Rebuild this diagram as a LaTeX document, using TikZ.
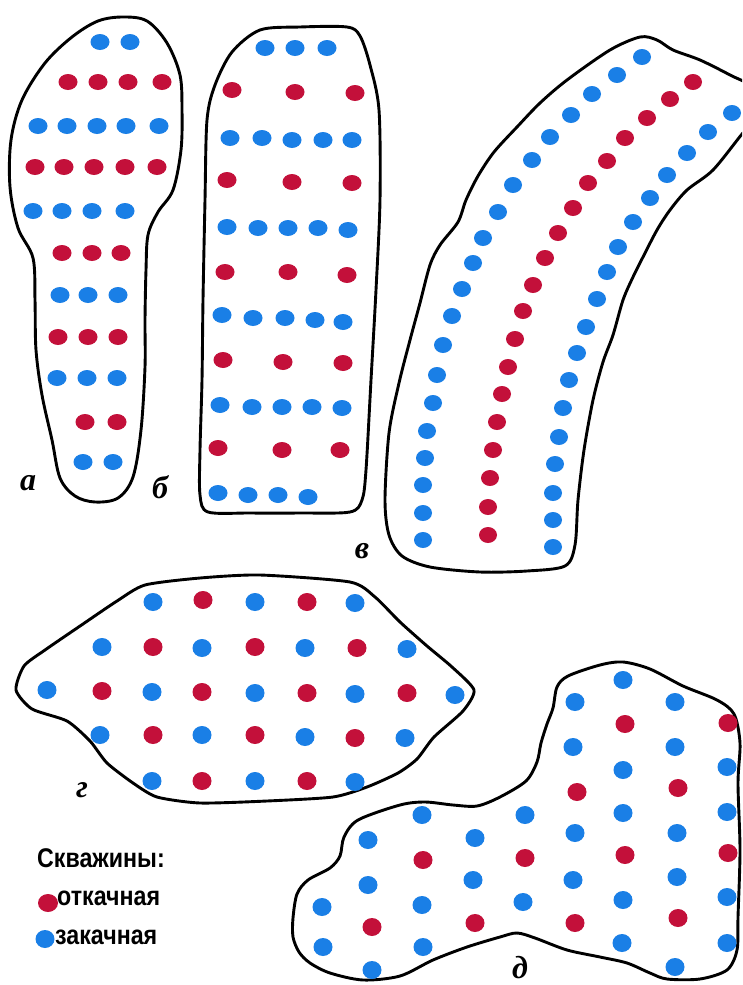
\documentclass[tikz,border=0pt]{standalone}
\usepackage{fontspec}
\setmainfont{Liberation Serif}
\newfontfamily\legfont[FakeStretch=0.86]{Liberation Sans}
\newfontfamily\labfont{Liberation Serif}
\definecolor{pumpred}{HTML}{C3103A}
\definecolor{injblue}{HTML}{1A7FE6}
\begin{document}
\begin{tikzpicture}[x=1pt,y=-1pt,
  outline/.style={draw=black,line width=2.9pt,line join=round},
  rdot/.style={fill=pumpred},
  bdot/.style={fill=injblue},
  panellabel/.style={font=\labfont\bfseries\itshape\fontsize{32}{32}\selectfont,inner sep=0pt},
  legtext/.style={font=\legfont\bfseries\fontsize{27}{27}\selectfont,inner sep=0pt,anchor=west}]
\useasboundingbox (0,0) rectangle (742,985);
\fill[white] (0,0) rectangle (742,985);
\clip (0,0) rectangle (742,985);

% ---------- panel a ----------
\draw[outline] plot[smooth cycle,tension=0.55] coordinates {
 (123,17) (147,21) (167,43) (180,75) (182,110) (181,150) (173,190) (158,212) (148,235)
 (146,270) (145,320) (145,367) (141,430) (133,477) (118,498) (95,502) (75,496) (60,478)
 (52,440) (42,395) (36,350) (35,300) (33,258) (18,228) (10,187) (11,140) (22,100)
 (45,63) (72,37) (98,21)};
\foreach \x/\y in {100/42,130/42, 38/126,67/126,97/126,126/126,159/126,
  33/211,62/211,92/211,125/211, 60/295,88/295,118/295, 57/378,87/378,117/378, 83/462,113/462}
  \fill[bdot] (\x,\y) ellipse [x radius=9.5pt,y radius=8pt];
\foreach \x/\y in {68/82,98/82,128/82,162/82, 35/167,64/167,94/167,125/167,157/167,
  62/253,92/253,121/253, 58/337,88/337,118/337, 85/422,117/422}
  \fill[rdot] (\x,\y) ellipse [x radius=9.5pt,y radius=8pt];

% ---------- panel b ----------
\draw[outline] plot[smooth cycle,tension=0.5] coordinates {
 (215,85) (232,52) (260,30) (300,27) (347,27) (360,36) (370,65) (379,110) (380,200)
 (376,290) (371,380) (366,470) (362,500) (350,512) (300,513) (250,513) (208,512)
 (200,495) (200,450) (202,380) (203,300) (205,200) (207,120)};
\foreach \x/\y in {265/48,295/48,327/48, 230/138,262/138,292/140,323/140,352/140,
  227/227,258/228,288/228,318/228,348/230, 222/315,253/318,285/318,315/320,343/322,
  220/405,252/407,282/407,312/407,342/408, 218/493,248/495,278/495,308/497}
  \fill[bdot] (\x,\y) ellipse [x radius=9.5pt,y radius=8pt];
\foreach \x/\y in {232/90,295/92,355/93, 227/180,292/182,352/183, 225/272,288/272,347/275,
  223/360,283/362,343/363, 218/448,282/450,340/450}
  \fill[rdot] (\x,\y) ellipse [x radius=9.5pt,y radius=8pt];

% ---------- panel v ----------
\draw[outline] plot[smooth cycle,tension=0.5] coordinates {
 (610,50) (640,37) (657,40) (673,50) (700,60) (730,75) (752,88) (756,118) (742,134)
 (713,170) (687,190) (670,210) (657,230) (643,257) (633,277) (623,300) (613,335)
 (603,362) (593,400) (584,450) (578,500) (575,545) (565,566) (527,571) (480,572)
 (430,567) (402,556) (389,535) (385,500) (389,433) (399,383) (410,340) (420,303)
 (430,265) (440,245) (458,222) (466,200) (478,176) (494,152) (517,127) (540,103) (567,80)};
\foreach \x/\y in {642/57,617/75,592/94,571/115,550/137,532/160,513/185,498/212,483/238,
  473/263,462/289,452/316,443/345,437/375,433/403,427/431,425/458,423/485,423/513,423/540,
  732/113,708/132,687/153,667/175,650/198,633/222,618/247,607/272,597/299,586/327,
  577/353,569/380,563/408,559/437,555/464,553/493,553/520,553/547}
  \fill[bdot] (\x,\y) ellipse [x radius=9pt,y radius=8pt];
\foreach \x/\y in {693/82,670/99,647/118,625/138,607/161,588/183,573/208,558/233,545/258,
  533/285,523/311,515/339,508/367,502/394,497/422,493/450,490/478,488/507,488/535}
  \fill[rdot] (\x,\y) ellipse [x radius=9pt,y radius=8pt];

% ---------- panel g ----------
\draw[outline] plot[smooth cycle,tension=0.4] coordinates {
 (16,690) (24,666) (45,650) (83,624) (117,601) (145,585) (200,578) (260,575) (350,582)
 (375,597) (400,622) (427,646) (452,667) (474,690) (463,711) (434,737) (417,759)
 (398,773) (367,787) (333,797) (267,801) (200,803) (157,797) (133,783) (107,763)
 (90,741) (67,721) (32,709)};
\foreach \x/\y in {153/602,255/602,355/603, 102/647,202/648,305/648,407/649,
  47/690,152/692,255/693,355/694,455/695, 100/735,202/735,305/737,405/738,
  152/781,255/781,355/782}
  \fill[bdot] (\x,\y) ellipse [x radius=9.5pt,y radius=9pt];
\foreach \x/\y in {203/600,307/602, 153/647,255/647,357/648, 102/691,202/692,307/693,407/693,
  153/735,255/735,355/738, 202/781,307/781}
  \fill[rdot] (\x,\y) ellipse [x radius=9.5pt,y radius=9pt];

% ---------- panel d ----------
\draw[outline] plot[smooth cycle,tension=0.5] coordinates {
 (557,687) (568,676) (600,665) (623,662) (650,669) (683,686) (717,700) (734,714)
 (740,743) (738,783) (740,850) (738,917) (737,950) (727,970) (700,979) (667,979)
 (650,973) (627,963) (600,957) (567,950) (535,938) (517,933) (500,937) (467,947)
 (433,960) (400,976) (363,980) (330,973) (310,963) (299,952) (293,937) (293,918)
 (297,894) (308,880) (330,868) (340,856) (344,837) (358,820) (400,805) (425,802)
 (453,805) (477,806) (500,797) (526,781) (537,762) (541,743) (547,724) (553,708)};
\foreach \x/\y in {575/702,573/747,575/833,573/880, 623/680,623/770,623/813,623/900,622/943,
  675/702,675/747,677/833,677/877,675/967, 727/767,727/812,727/897,727/943,
  525/815,523/902, 475/838,473/880, 422/815,422/905,423/947, 368/840,368/885,372/970,
  322/907,323/947}
  \fill[bdot] (\x,\y) ellipse [x radius=9.5pt,y radius=9pt];
\foreach \x/\y in {577/792,575/923, 625/724,625/855, 678/788,678/918, 728/723,728/853,
  525/858, 475/923, 423/860, 372/927}
  \fill[rdot] (\x,\y) ellipse [x radius=9.5pt,y radius=9pt];

% ---------- panel labels ----------
\node[panellabel] (la) at (28,483) {а};
\node[panellabel] (lb) at (160,487) {б};
\node[panellabel] (lv) at (362,551) {в};
\node[panellabel] (lg) at (82,790) {г};
\node[panellabel,anchor=base] (ld) at (520,978) {д};

% ---------- legend ----------
\node[legtext] (legtitle) at (37,858) {Скважины:};
\fill[rdot] (48,903) ellipse [x radius=10pt,y radius=9pt];
\node[legtext] (legred) at (57,898) {откачная};
\fill[bdot] (45,939) ellipse [x radius=9.5pt,y radius=9pt];
\node[legtext] (legblue) at (55,937) {закачная};
\end{tikzpicture}
\end{document}
